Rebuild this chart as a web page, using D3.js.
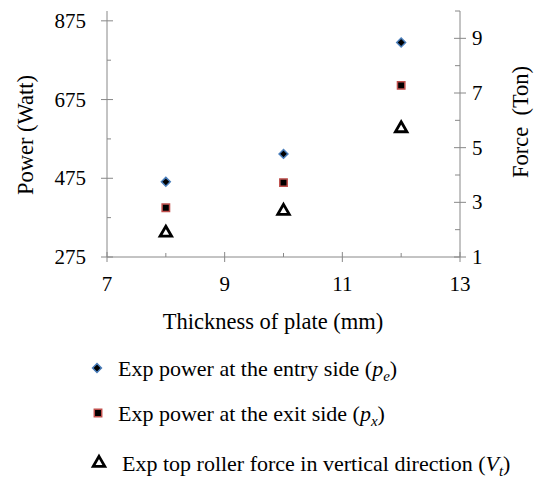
<!DOCTYPE html>
<html>
<head>
<meta charset="utf-8">
<script src="https://cdn.jsdelivr.net/npm/d3@7"></script>
<style>
  body { margin: 0; background: #fff; }
  text { font-family: "Liberation Serif", "Times New Roman", serif; fill: #000; }
</style>
</head>
<body>
<div id="chart"></div>
<script>
// data
const thickness = [8, 10, 12];
const powerEntry = [466, 537, 820];   // pe, Watt
const powerExit = [400, 464, 711];    // px, Watt
const forceTop = [1.92, 2.72, 5.74];  // Vt, Ton
const xTicks = [7, 9, 11, 13];
const powerTicks = [275, 475, 675, 875];
const forceTicks = [1, 3, 5, 7, 9];

const W = 536, H = 479;
const svg = d3.select("#chart").append("svg")
    .attr("width", W)
    .attr("height", H);

const plotL = 107, plotR = 460, plotT = 11, plotB = 257;
const axisColor = "#888";
const tickFont = 21, titleFont = 22.5;

const x = d3.scaleLinear().domain([7, 13]).range([plotL, plotR]);
const yP = d3.scaleLinear().domain([275, 900]).range([plotB, plotT]);
const yF = d3.scaleLinear().domain([1, 10]).range([plotB, plotT]);

// axis lines
svg.append("line").attr("x1", plotL).attr("x2", plotR).attr("y1", plotB).attr("y2", plotB)
    .attr("stroke", axisColor);
svg.append("line").attr("x1", plotL).attr("x2", plotL).attr("y1", plotT).attr("y2", plotB)
    .attr("stroke", axisColor);
svg.append("line").attr("x1", plotR).attr("x2", plotR).attr("y1", plotT).attr("y2", plotB)
    .attr("stroke", axisColor);

// x ticks: major cross, minor inside
svg.selectAll(".xmaj").data(xTicks).enter().append("line")
    .attr("x1", d => x(d)).attr("x2", d => x(d))
    .attr("y1", plotB - 5).attr("y2", plotB + 5)
    .attr("stroke", axisColor);
svg.selectAll(".xmin").data([8, 10, 12]).enter().append("line")
    .attr("x1", d => x(d)).attr("x2", d => x(d))
    .attr("y1", plotB - 4).attr("y2", plotB)
    .attr("stroke", axisColor);
svg.selectAll(".xlab").data(xTicks).enter().append("text")
    .attr("x", d => x(d)).attr("y", 291)
    .attr("text-anchor", "middle")
    .attr("font-size", tickFont)
    .text(d => d);

// left axis ticks
svg.selectAll(".pmaj").data(powerTicks).enter().append("line")
    .attr("x1", plotL - 6).attr("x2", plotL + 6)
    .attr("y1", d => yP(d)).attr("y2", d => yP(d))
    .attr("stroke", axisColor);
svg.selectAll(".pmin").data([375, 575, 775]).enter().append("line")
    .attr("x1", plotL).attr("x2", plotL + 4)
    .attr("y1", d => yP(d)).attr("y2", d => yP(d))
    .attr("stroke", axisColor);
svg.selectAll(".plab").data(powerTicks).enter().append("text")
    .attr("x", 86).attr("y", d => yP(d) + 7)
    .attr("text-anchor", "end")
    .attr("font-size", tickFont)
    .text(d => d);

// right axis ticks
svg.selectAll(".fmaj").data(forceTicks).enter().append("line")
    .attr("x1", plotR - 6).attr("x2", plotR + 6)
    .attr("y1", d => yF(d)).attr("y2", d => yF(d))
    .attr("stroke", axisColor);
svg.selectAll(".fmin").data([2, 4, 6, 8, 10]).enter().append("line")
    .attr("x1", plotR - 5).attr("x2", plotR)
    .attr("y1", d => yF(d)).attr("y2", d => yF(d))
    .attr("stroke", axisColor);
svg.selectAll(".flab").data(forceTicks).enter().append("text")
    .attr("x", 472).attr("y", d => yF(d) + 7)
    .attr("font-size", tickFont)
    .text(d => d);

// axis titles
svg.append("text")
    .attr("transform", "translate(33,135) rotate(-90)")
    .attr("text-anchor", "middle")
    .attr("font-size", titleFont)
    .text("Power (Watt)");
svg.append("text")
    .attr("transform", "translate(528,122) rotate(-90)")
    .attr("text-anchor", "middle")
    .attr("font-size", titleFont)
    .style("white-space", "pre")
    .text("Force  (Ton)");
svg.append("text")
    .attr("x", 273).attr("y", 329)
    .attr("text-anchor", "middle")
    .attr("font-size", titleFont)
    .text("Thickness of plate (mm)");

// markers
const diamond = d3.symbol().type(d3.symbolDiamond2).size(50);
const square = d3.symbol().type(d3.symbolSquare2).size(70);
const triangle = d3.symbol().type(d3.symbolTriangle2).size(95);

function drawDiamond(g) {
  g.attr("d", diamond).attr("fill", "#000").attr("stroke", "#4a7ebb").attr("stroke-width", 1.5);
}
function drawSquare(g) {
  g.attr("d", square).attr("fill", "#000").attr("stroke", "#c0504d").attr("stroke-width", 1.5);
}
function drawTriangle(g) {
  g.attr("d", triangle).attr("fill", "#fff").attr("stroke", "#000").attr("stroke-width", 2.8)
    .attr("stroke-linejoin", "miter");
}

svg.selectAll(".pe").data(thickness).enter().append("path")
    .attr("transform", (d, i) => `translate(${x(d)},${yP(powerEntry[i])})`)
    .call(drawDiamond);
svg.selectAll(".px").data(thickness).enter().append("path")
    .attr("transform", (d, i) => `translate(${x(d)},${yP(powerExit[i])})`)
    .call(drawSquare);
svg.selectAll(".vt").data(thickness).enter().append("path")
    .attr("transform", (d, i) => `translate(${x(d)},${yF(forceTop[i]) + 1})`)
    .call(drawTriangle);

// legend
const legend = [
  { draw: drawDiamond, label: "Exp power at the entry side (", v: "p", sub: "e", mx: 97, y: 368, tx: 118 },
  { draw: drawSquare, label: "Exp power at the exit side (", v: "p", sub: "x", mx: 98, y: 413, tx: 118 },
  { draw: drawTriangle, label: "Exp top roller force in vertical direction (", v: "V", sub: "t", mx: 99, y: 463, tx: 122 }
];
legend.forEach(l => {
  svg.append("path").attr("transform", `translate(${l.mx},${l.y})`).call(l.draw);
  const t = svg.append("text").attr("x", l.tx).attr("y", l.y + 8).attr("font-size", 22);
  t.append("tspan").text(l.label);
  t.append("tspan").attr("font-style", "italic").text(l.v);
  t.append("tspan").attr("font-style", "italic").attr("font-size", 15).attr("dy", 5).text(l.sub);
  t.append("tspan").attr("dy", -5).text(")");
});
</script>
</body>
</html>
